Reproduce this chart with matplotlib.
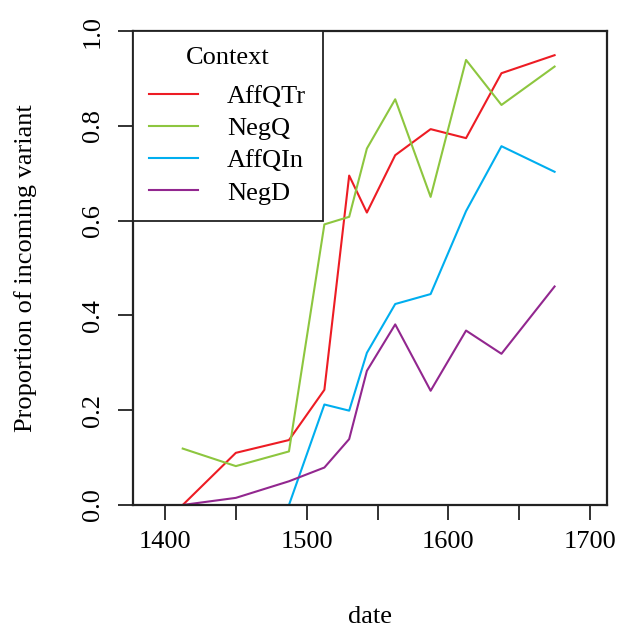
import matplotlib
matplotlib.use("Agg")
import matplotlib.pyplot as plt

plt.rcParams['font.family'] = ['Liberation Serif', 'DejaVu Serif']

# period midpoints
dates = [1412.5, 1450, 1487.5, 1512.5, 1530, 1542.5, 1562.5, 1587.5, 1612.5, 1637.5, 1675]

aff_qtr = [0.0, 0.11, 0.137, 0.243, 0.695, 0.617, 0.738, 0.793, 0.774, 0.911, 0.949]
neg_q = [0.119, 0.082, 0.113, 0.592, 0.608, 0.752, 0.856, 0.650, 0.939, 0.844, 0.925]
aff_qin = [None, None, 0.0, 0.212, 0.199, 0.321, 0.424, 0.445, 0.620, 0.757, 0.703]
neg_d = [0.0, 0.015, 0.05, 0.079, 0.139, 0.283, 0.381, 0.241, 0.368, 0.319, 0.461]

series = ["AffQTr", "NegQ", "AffQIn", "NegD"]
colors = ["#ED1C24", "#8DC63F", "#00AEEF", "#92278F"]

FS = 19

fig = plt.figure(figsize=(6.18, 6.28), dpi=100)
ax = fig.add_axes([0.2152, 0.1959, 0.7670, 0.7547])

for name, vals, col in zip(series, [aff_qtr, neg_q, aff_qin, neg_d], colors):
    xs = [d for d, v in zip(dates, vals) if v is not None]
    ys = [v for v in vals if v is not None]
    ax.plot(xs, ys, color=col, lw=1.5, label=name)

ax.set_xlim(1377.4, 1712)
ax.set_ylim(0, 1)

xt = [1400, 1450, 1500, 1550, 1600, 1650, 1700]
ax.set_xticks(xt)
ax.set_xticklabels([str(t) if t % 100 == 0 else "" for t in xt])
yt = [0.0, 0.2, 0.4, 0.6, 0.8, 1.0]
ax.set_yticks(yt)
ax.set_yticklabels(["%.1f" % t for t in yt], rotation=90, va="center")

ax.tick_params(labelsize=FS, length=11, width=1.3, color="#222222", pad=8)
ax.tick_params(axis="y", pad=10)
for s in ax.spines.values():
    s.set_linewidth(1.6)
    s.set_color("#222222")

ax.set_xlabel("date", fontsize=FS, labelpad=38)
ax.set_ylabel("Proportion of incoming variant", fontsize=FS, labelpad=32)

leg = ax.legend(loc="upper left", bbox_to_anchor=(0, 1), borderaxespad=0,
                title="Context", fontsize=FS, title_fontsize=FS,
                fancybox=False, framealpha=1, edgecolor="#222222",
                handlelength=1.85, handletextpad=1.1, labelspacing=0.33,
                borderpad=0.62)
leg.get_frame().set_linewidth(1.3)
# extra gap between the title and the entries
leg._legend_box.sep = 11

fig.savefig("out.png", dpi=100)
